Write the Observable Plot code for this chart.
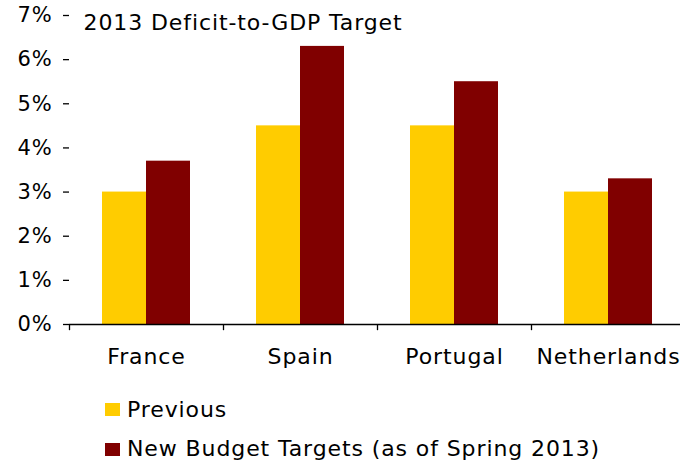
<!DOCTYPE html>
<html>
<head>
<meta charset="utf-8">
<script src="https://cdn.jsdelivr.net/npm/d3@7"></script>
<script src="https://cdn.jsdelivr.net/npm/@observablehq/plot@0.6"></script>
<style>
  html, body { margin: 0; padding: 0; background: #fff; }
  body { width: 680px; height: 468px; overflow: hidden; font-family: "DejaVu Sans", Verdana, sans-serif; }
  #chart svg { display: block; }
  #chart text { letter-spacing: 0.9px; }
  #legend { position: relative; height: 88px; font-size: 22px; line-height: 26px; letter-spacing: 0.9px; color: #000; }
  .sw { position: absolute; left: 105px; width: 15px; height: 13px; }
  .lab { position: absolute; left: 127px; white-space: nowrap; }
</style>
</head>
<body>
<div id="chart"></div>
<div id="legend"></div>
<script>
const countries = ["France", "Spain", "Portugal", "Netherlands"];
const previous = [3.0, 4.5, 4.5, 3.0];
const newTargets = [3.7, 6.3, 5.5, 3.3];
const seriesNames = ["Previous", "New Budget Targets (as of Spring 2013)"];
const seriesColors = ["#FFCC00", "#800000"];
const yTicks = [0, 1, 2, 3, 4, 5, 6, 7];
const title = "2013 Deficit-to-GDP Target";

const chart = Plot.plot({
  width: 680,
  height: 380,
  marginLeft: 69,
  marginRight: -5,
  marginTop: 15,
  marginBottom: 56,
  style: { fontFamily: "DejaVu Sans, Verdana, sans-serif", fontSize: "22px", color: "#000", background: "#fff" },
  x: { domain: countries, paddingInner: 0, paddingOuter: 0, axis: null },
  y: { domain: [0, 7], axis: null },
  marks: [
    Plot.barY(countries, { x: d => d, y: (d, i) => previous[i], fill: seriesColors[0], insetLeft: 33, insetRight: 77 }),
    Plot.barY(countries, { x: d => d, y: (d, i) => newTargets[i], fill: seriesColors[1], insetLeft: 77, insetRight: 33 }),
    Plot.ruleY([0], { stroke: "#000", strokeWidth: 1.3 }),
    Plot.ruleX(countries, { x: d => d, y1: 0, y2: -0.14, dx: -77, stroke: "#000", strokeWidth: 1.3 }),
    Plot.axisY({ ticks: yTicks, tickFormat: d => d + "%", tickSize: 6, tickPadding: 11, line: true, fontSize: 21, stroke: "#000", strokeWidth: 1.3, strokeOpacity: 1 }),
    Plot.axisX({ tickSize: 0, tickPadding: 23.5, fontSize: 22 }),
    Plot.text([title], { frameAnchor: "top-left", text: d => d, dx: 14, dy: -1, lineAnchor: "top", textAnchor: "start", fontSize: 22 })
  ]
});
document.getElementById("chart").appendChild(chart);

const legend = document.getElementById("legend");
seriesNames.forEach((name, i) => {
  const sw = document.createElement("div");
  sw.className = "sw";
  sw.style.top = (23 + i * 40) + "px";
  sw.style.background = seriesColors[i];
  const label = document.createElement("div");
  label.className = "lab";
  label.style.top = (17 + i * 39) + "px";
  label.textContent = name;
  legend.appendChild(sw);
  legend.appendChild(label);
});
</script>
</body>
</html>
